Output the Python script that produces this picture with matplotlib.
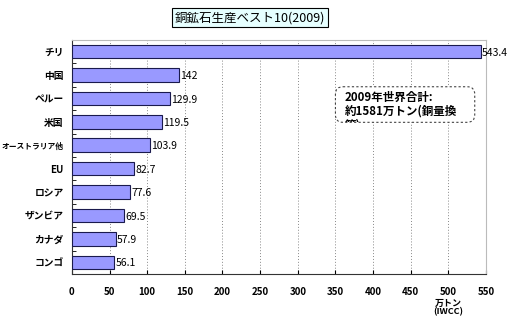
import numpy as np
import matplotlib.pyplot as plt
from matplotlib.patches import FancyBboxPatch
from matplotlib.transforms import Bbox, TransformedBbox

plt.rcParams['font.family'] = ['Noto Sans CJK JP', 'DejaVu Sans']

# データ
countries = ['チリ', '中国', 'ペルー', '米国', 'オーストラリア他', 'EU', 'ロシア', 'ザンビア', 'カナダ', 'コンゴ']
values = [543.4, 142, 129.9, 119.5, 103.9, 82.7, 77.6, 69.5, 57.9, 56.1]
xticks = [0, 50, 100, 150, 200, 250, 300, 350, 400, 450, 500, 550]

fig = plt.figure(figsize=(5.10, 3.22), dpi=100)
ax = fig.add_axes([0.141, 0.149, 0.812, 0.727])

y = np.arange(len(countries))
ax.barh(y, values, height=0.58, color='#9999ff', edgecolor='#1a1a4d', linewidth=0.8, zorder=3)
for yi, v in zip(y, values):
    ax.text(v + 1.5, yi + 0.05, f'{v:g}', va='center', ha='left', fontsize=7.5, zorder=4, clip_on=False)

ax.set_xlim(0, 550)
ax.set_ylim(len(countries) - 0.5, -0.5)
ax.set_yticks(y)
ax.set_yticklabels(countries, fontsize=7, fontweight='bold')
for lab in ax.get_yticklabels():
    if len(lab.get_text()) > 5:
        lab.set_fontsize(5.6)
ax.set_yticks(np.arange(-0.5, len(countries), 1), minor=True)
ax.tick_params(axis='y', which='major', length=0, pad=6)
ax.tick_params(axis='y', which='minor', length=3, direction='in')
ax.set_xticks(xticks)
ax.set_xticklabels([str(t) for t in xticks], fontsize=7, fontweight='bold')
ax.tick_params(axis='x', length=3, direction='in', pad=9)
ax.grid(axis='x', color='#888888', linestyle=(0, (1, 2)), linewidth=0.7, zorder=0)
for s in ['top', 'right']:
    ax.spines[s].set_color('#bbbbbb')
ax.spines['left'].set_color('#333333')
ax.spines['bottom'].set_color('#333333')

ax.text(500, -0.105, '万トン\n(IWCC)', transform=ax.get_xaxis_transform(), fontsize=6.5,
        fontweight='bold', ha='center', va='top', linespacing=1.0)

# 注記ボックス
box = FancyBboxPatch((350, 1.50), 185, 1.52, boxstyle='round,pad=0,rounding_size=10',
                     facecolor='white', edgecolor='#444444', linestyle=(0, (2, 2)),
                     linewidth=0.8, zorder=5, mutation_aspect=0.032)
ax.add_patch(box)
note = ax.text(362, 1.66, '2009年世界合計:\n約1581万トン(銅量換\n算)', fontsize=8.3,
               fontweight='bold', va='top', ha='left', zorder=6, linespacing=1.1,
               clip_on=True)
note.set_clip_box(TransformedBbox(Bbox([[350, 1.52], [535, 3.0]]), ax.transData))

# タイトル
fig.text(0.49, 0.945, '銅鉱石生産ベスト10(2009)', fontsize=9, ha='center', va='center',
         bbox=dict(facecolor='#e6ffff', edgecolor='black', linewidth=0.8, boxstyle='square,pad=0.25'))

fig.savefig('out.png', dpi=100)
